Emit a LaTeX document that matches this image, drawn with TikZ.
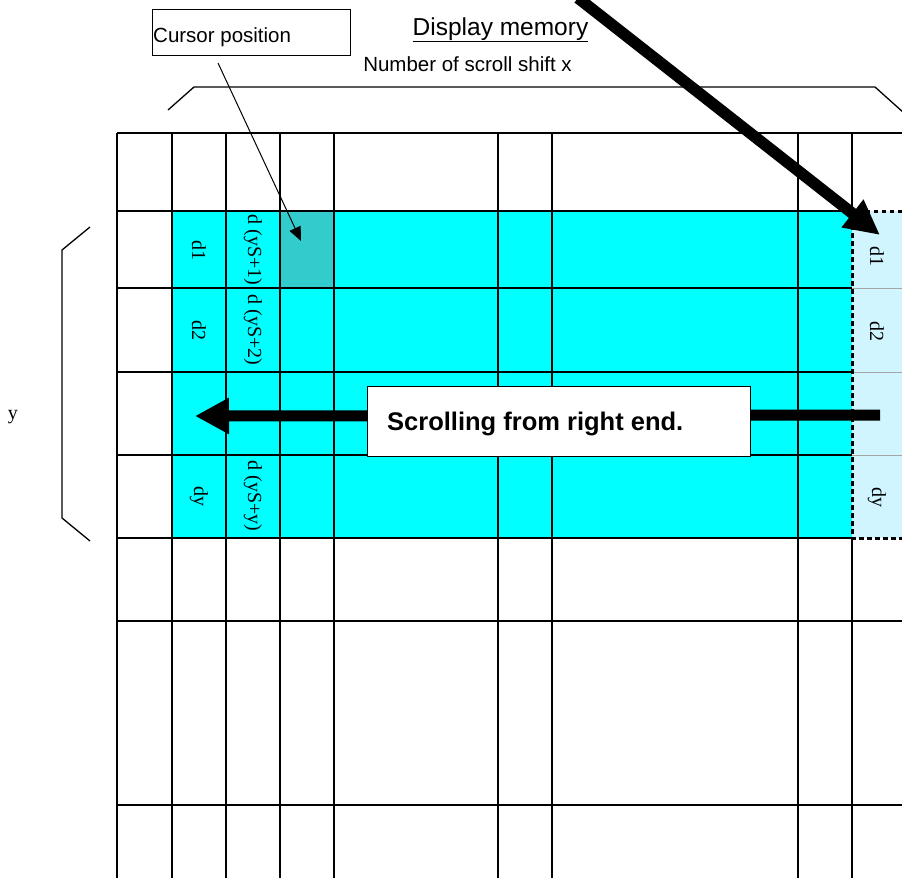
\documentclass[tikz,border=0pt]{standalone}
\usepackage{fontspec}
\setmainfont{Liberation Sans}
\newfontfamily\memfont{Liberation Serif}
\usetikzlibrary{arrows.meta}
\definecolor{memCyan}{RGB}{0,255,255}
\definecolor{cursorCell}{RGB}{51,204,204}
\definecolor{newColumn}{RGB}{208,245,255}
\tikzset{
    gridline/.style={line width=1.3pt},
    thinline/.style={line width=0.8pt, gray!70},
    memtext/.style={
        font=\memfont\fontsize{20}{22}\selectfont,
        rotate=-90,
        inner sep=0pt
    },
    labeltext/.style={inner sep=0pt, anchor=base},
    bigptr/.style={
        line width=11.5pt,
        -{Triangle[length=35pt,width=33pt]}
    },
    curptr/.style={
        line width=1pt,
        -{Triangle[length=14pt,width=12pt]}
    },
    dotline/.style={line width=3pt, dash pattern=on 4.5pt off 3.5pt},
    bracket/.style={line width=1.3pt}
}

\begin{document}
\begin{tikzpicture}[x=1pt, y=-1pt]
    \useasboundingbox (0,0) rectangle (902,878);

    % shifted rows
    \fill[memCyan] (172,211) rectangle (852,538);
    \node[fill=cursorCell, inner sep=0pt, minimum width=54pt, minimum height=77pt, anchor=north west] (curcell) at (280,211) {};
    \fill[newColumn] (852,211) rectangle (902,538);

    % memory grid
    \foreach \x in {117,172,226,280,334,498,552,798}
        \draw[gridline] (\x,133) -- (\x,878);
    \draw[gridline] (852,133) -- (852,211);
    \draw[gridline] (852,538) -- (852,878);
    \foreach \y in {133,621,805}
        \draw[gridline] (117,\y) -- (902,\y);
    \foreach \y in {211,288,372,455,538}
        \draw[gridline] (117,\y) -- (852,\y);
    \foreach \y in {288,372,455}
        \draw[thinline] (852,\y) -- (902,\y);

    % cell data
    \node[memtext] (da) at (199,250) {d1};
    \node[memtext] (db) at (199,330) {d2};
    \node[memtext] (dy) at (199,496) {dy};
    \node[memtext] (sa) at (253,250) {d (yS+1)};
    \node[memtext] (sb) at (253,330) {d (yS+2)};
    \node[memtext] (sy) at (253,496) {d (yS+y)};
    \node[memtext] (na) at (877,256) {d1};
    \node[memtext] (nb) at (877,331) {d2};
    \node[memtext] (ny) at (877,497) {dy};

    \draw[dotline] (910,211) -| (852,538) -- (910,538);

    % brackets
    \draw[bracket] (168,110) -- (194,87) -- (875,87) -- (904,113);
    \draw[bracket] (90,227) -- (62,250) -- (62,518) -- (90,541);
    \node[labeltext, font=\memfont\fontsize{20}{22}\selectfont] (ylabel) at (13,419) {y};

    % titles
    \node[labeltext, font=\fontsize{24.5}{28}\selectfont] (dispmem) at (500.5,35) {\underline{Display memory}};
    \node[labeltext, font=\fontsize{20.5}{24}\selectfont] (shiftx) at (467.5,71) {Number of scroll shift x};

    % cursor
    \node[draw, line width=1.2pt, inner sep=0pt, minimum width=198pt, minimum height=46pt, anchor=north west] (curbox) at (152,9) {};
    \node[labeltext, anchor=base west, font=\fontsize{20.5}{24}\selectfont] (curtext) at (153,42) {Cursor position};
    \coordinate (curfrom) at (218,63);
    \coordinate (curto) at (301,241);
    \draw[curptr] (curfrom) -- (curto);

    % scrolling
    \coordinate (scrollfrom) at (880,415);
    \coordinate (scrollto) at (195,416);
    \draw[line width=11pt, -{Triangle[length=34pt,width=34pt]}] (scrollfrom) -- (scrollto);
    \node[draw, fill=white, line width=1pt, inner sep=0pt, minimum width=383pt, minimum height=70pt, anchor=north west] (scrollbox) at (367,386) {};
    \node[labeltext, anchor=base west, font=\bfseries\fontsize{25.5}{30}\selectfont] (scrolltext) at (387,430) {Scrolling from right end.};

    \coordinate (bigfrom) at (578,-2);
    \coordinate (bigto) at (880,235);
    \draw[bigptr] (bigfrom) -- (bigto);
\end{tikzpicture}
\end{document}
